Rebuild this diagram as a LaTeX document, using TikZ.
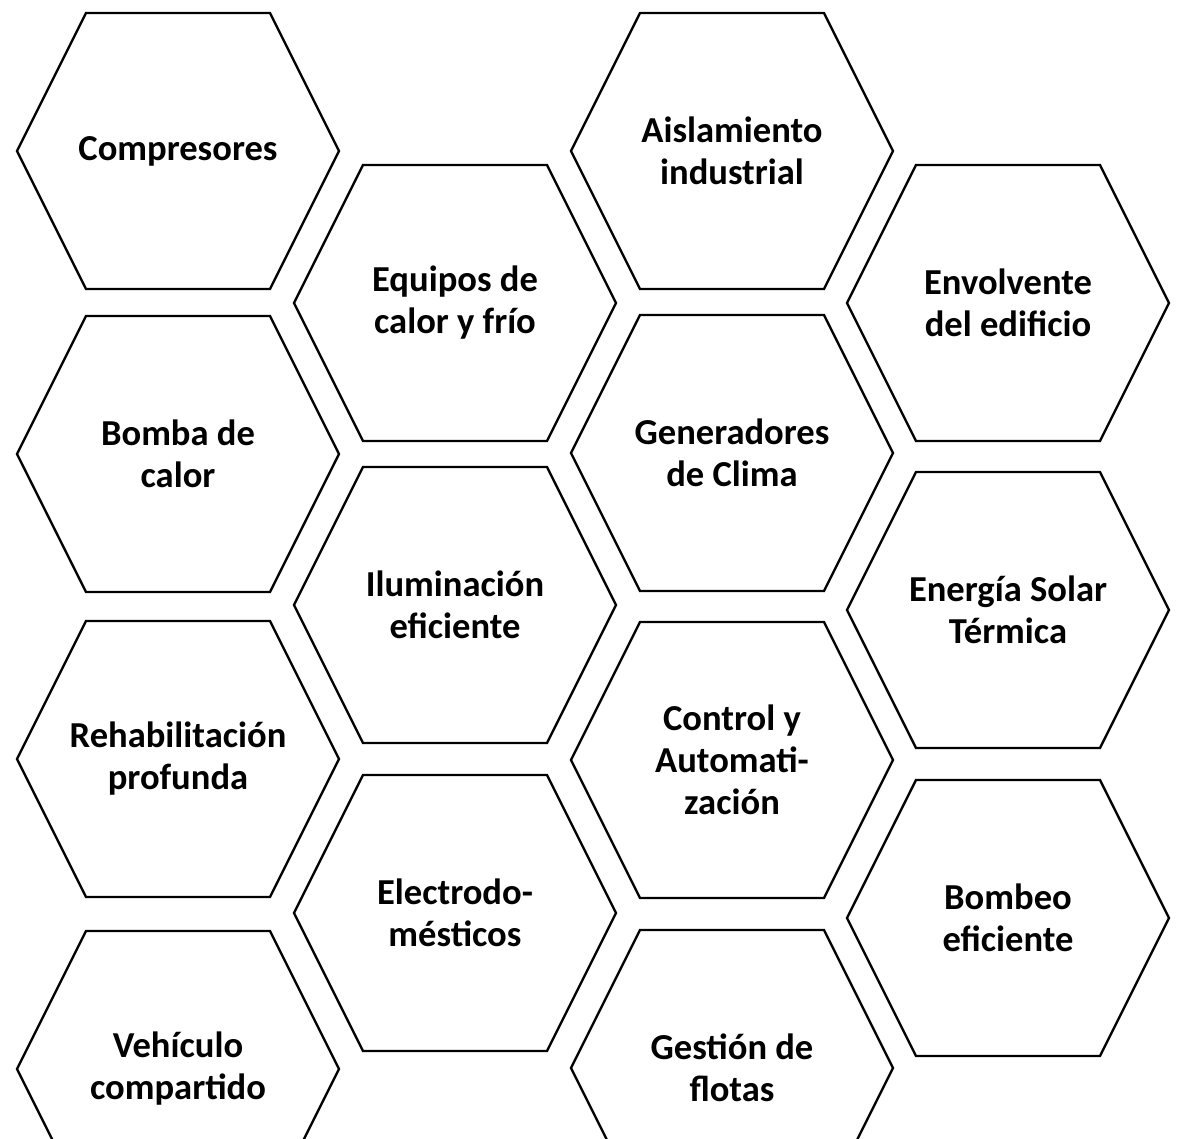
\documentclass[tikz,border=0pt]{standalone}
\usepackage{fontspec}
\setmainfont{Carlito}

\begin{document}
\begin{tikzpicture}[x=0.025cm,y=-0.025cm]
		\tikzset{cell/.style = {align=center, inner sep=0pt, font=\bfseries\fontsize{26}{29.9}\selectfont},
			hexa/.style = {line width=1.7pt, line join=miter}}

		\clip (0,0) rectangle (1179,1139);

		\node[cell] (comp) at (178,151) {Compresores};
		\node[cell] (bomba) at (178,454) {Bomba de\\calor};
		\node[cell] (rehab) at (178,759) {Rehabilitación\\profunda};
		\node[cell] (vehic) at (178,1069) {Vehículo\\compartido};

		\node[cell] (equipos) at (455,303) {Equipos de\\calor y frío};
		\node[cell] (ilum) at (455,605) {Iluminación\\eficiente};
		\node[cell] (electro) at (455,913) {Electrodo-\\mésticos};

		\node[cell] (aisl) at (732,151) {Aislamiento\\industrial};
		\node[cell] (gener) at (732,453) {Generadores\\de Clima};
		\node[cell] (control) at (732,760) {Control y\\Automati-\\zación};
		\node[cell] (gestion) at (732,1068) {Gestión de\\flotas};

		\node[cell] (envol) at (1008,303) {Envolvente\\del edificio};
		\node[cell] (energia) at (1008,610) {Energía Solar\\Térmica};
		\node[cell] (bombeo) at (1008,918) {Bombeo\\eficiente};

		% hexagon round every label
		\foreach \n in {comp,bomba,rehab,vehic,equipos,ilum,electro,aisl,gener,control,gestion,envol,energia,bombeo}
			\draw[hexa] (\n.center) ++(-161,0) -- ++(69,-138) -- ++(184,0) -- ++(69,138) -- ++(-69,138) -- ++(-184,0) -- cycle;

	\end{tikzpicture}
\end{document}
